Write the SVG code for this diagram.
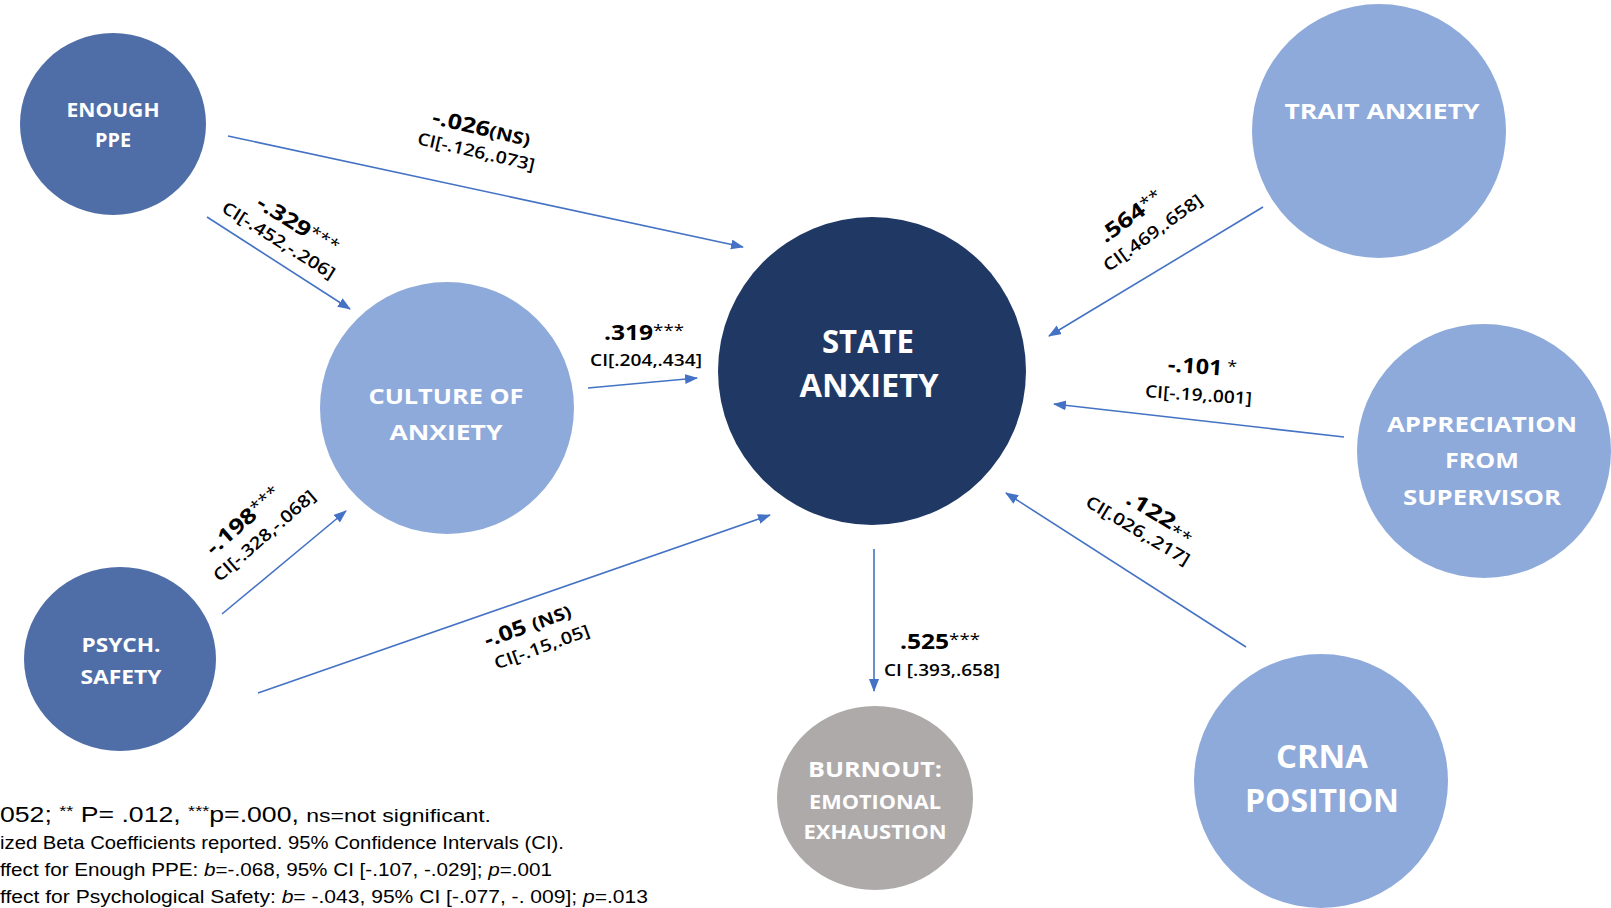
<svg xmlns="http://www.w3.org/2000/svg" width="1611" height="908" viewBox="0 0 1611 908">
<style>
.node-label{font-family:"Open Sans","Liberation Sans",sans-serif;font-weight:700;fill:#FFFFFF;text-anchor:middle}
.edge{stroke:#4472C4;stroke-width:1.6;fill:none;marker-end:url(#arrow)}
.val{font-family:"Open Sans","Liberation Sans",sans-serif;font-weight:700;font-size:21px;fill:#000;text-anchor:middle}
.ci{font-family:"Open Sans","Liberation Sans",sans-serif;font-weight:600;font-size:17px;fill:#000;text-anchor:middle}
.star{font-weight:400;font-size:16px}
.legend{font-family:"Liberation Sans",sans-serif;fill:#000}
</style>
<defs>
<marker id="arrow" markerUnits="userSpaceOnUse" markerWidth="14" markerHeight="12" refX="12" refY="5" orient="auto">
<path d="M0,0 L13,5 L0,10 Z" fill="#4472C4"/>
</marker>
</defs>
<rect width="1611" height="908" fill="#FFFFFF"/>

<g id="connectors">
<line class="edge" x1="228" y1="136" x2="743" y2="247"/>
<line class="edge" x1="207" y1="217" x2="350" y2="309"/>
<line class="edge" x1="588" y1="388" x2="697" y2="378"/>
<line class="edge" x1="222" y1="614" x2="346" y2="511"/>
<line class="edge" x1="258" y1="693" x2="770" y2="515"/>
<line class="edge" x1="1263" y1="207" x2="1049" y2="336"/>
<line class="edge" x1="1344" y1="437" x2="1054" y2="404"/>
<line class="edge" x1="1246" y1="647" x2="1006" y2="493"/>
<line class="edge" x1="874" y1="549" x2="874" y2="691"/>
</g>

<g id="edge-labels">
<g transform="translate(480,135) rotate(13)">
<text class="val" x="0" y="0" textLength="100" lengthAdjust="spacingAndGlyphs">-.026<tspan font-size="17">(NS)</tspan></text>
<text class="ci" x="0" y="23" textLength="120" lengthAdjust="spacingAndGlyphs">CI[-.126,.073]</text>
</g>
<g transform="translate(294,231) rotate(32)">
<text class="val" x="0" y="0" textLength="92" lengthAdjust="spacingAndGlyphs">-.329<tspan class="star" dy="-4">***</tspan></text>
<text class="ci" x="-8" y="22" textLength="130" lengthAdjust="spacingAndGlyphs">CI[-.452,-.206]</text>
</g>
<g transform="translate(644,340)">
<text class="val" x="0" y="0" textLength="80" lengthAdjust="spacingAndGlyphs">.319<tspan class="star" dy="-4">***</tspan></text>
<text class="ci" x="2" y="26" textLength="112" lengthAdjust="spacingAndGlyphs">CI[.204,.434]</text>
</g>
<g transform="translate(248,526) rotate(-41)">
<text class="val" x="0" y="0" textLength="92" lengthAdjust="spacingAndGlyphs">-.198<tspan class="star" dy="-4">***</tspan></text>
<text class="ci" x="6" y="24" textLength="129" lengthAdjust="spacingAndGlyphs">CI[-.328,-.068]</text>
</g>
<g transform="translate(530,632) rotate(-20)">
<text class="val" x="0" y="0" textLength="91" lengthAdjust="spacingAndGlyphs">-.05 <tspan font-size="17">(NS)</tspan></text>
<text class="ci" x="6" y="24" textLength="100" lengthAdjust="spacingAndGlyphs">CI[-.15,.05]</text>
</g>
<g transform="translate(1135,222) rotate(-36)">
<text class="val" x="0" y="0" textLength="73" lengthAdjust="spacingAndGlyphs">.564<tspan class="star" dy="-4">**</tspan></text>
<text class="ci" x="8" y="25" textLength="118" lengthAdjust="spacingAndGlyphs">CI[.469,.658]</text>
</g>
<g transform="translate(1202,374) rotate(4)">
<text class="val" x="0" y="0" textLength="69" lengthAdjust="spacingAndGlyphs">-.101<tspan class="star" dy="-4"> *</tspan></text>
<text class="ci" x="-2" y="27" textLength="107" lengthAdjust="spacingAndGlyphs">CI[-.19,.001]</text>
</g>
<g transform="translate(1157,522) rotate(31)">
<text class="val" x="0" y="0" textLength="76" lengthAdjust="spacingAndGlyphs">.122<tspan class="star" dy="4">**</tspan></text>
<text class="ci" x="-12" y="23" textLength="118" lengthAdjust="spacingAndGlyphs">CI[.026,.217]</text>
</g>
<g transform="translate(940,649)">
<text class="val" x="0" y="0" textLength="80" lengthAdjust="spacingAndGlyphs">.525<tspan class="star" dy="-4">***</tspan></text>
<text class="ci" x="2" y="27" textLength="116" lengthAdjust="spacingAndGlyphs">CI [.393,.658]</text>
</g>
</g>

<g id="node-enough-ppe">
<ellipse cx="113" cy="124" rx="93" ry="91" fill="#4F6EA8"/>
<text class="node-label" x="113" y="117" font-size="20" textLength="93" lengthAdjust="spacingAndGlyphs">ENOUGH</text>
<text class="node-label" x="113" y="147" font-size="20" textLength="36" lengthAdjust="spacingAndGlyphs">PPE</text>
</g>

<g id="node-culture">
<ellipse cx="447" cy="408" rx="127" ry="126" fill="#8EAADB"/>
<text class="node-label" x="446" y="404" font-size="22" textLength="155" lengthAdjust="spacingAndGlyphs">CULTURE OF</text>
<text class="node-label" x="446" y="440" font-size="22" textLength="113" lengthAdjust="spacingAndGlyphs">ANXIETY</text>
</g>

<g id="node-state-anxiety">
<ellipse cx="872" cy="371" rx="154" ry="154" fill="#203864"/>
<text class="node-label" x="868" y="353" font-size="32" textLength="92" lengthAdjust="spacingAndGlyphs">STATE</text>
<text class="node-label" x="869" y="397" font-size="32" textLength="139" lengthAdjust="spacingAndGlyphs">ANXIETY</text>
</g>

<g id="node-trait-anxiety">
<ellipse cx="1379" cy="131" rx="127" ry="127" fill="#8EAADB"/>
<text class="node-label" x="1382" y="119" font-size="22" textLength="195" lengthAdjust="spacingAndGlyphs">TRAIT ANXIETY</text>
</g>

<g id="node-appreciation">
<ellipse cx="1484" cy="451" rx="127" ry="127" fill="#8EAADB"/>
<text class="node-label" x="1482" y="432" font-size="22" textLength="190" lengthAdjust="spacingAndGlyphs">APPRECIATION</text>
<text class="node-label" x="1482" y="468" font-size="22" textLength="74" lengthAdjust="spacingAndGlyphs">FROM</text>
<text class="node-label" x="1482" y="505" font-size="22" textLength="158" lengthAdjust="spacingAndGlyphs">SUPERVISOR</text>
</g>

<g id="node-crna">
<ellipse cx="1321" cy="781" rx="127" ry="127" fill="#8EAADB"/>
<text class="node-label" x="1322" y="768" font-size="32" textLength="92" lengthAdjust="spacingAndGlyphs">CRNA</text>
<text class="node-label" x="1322" y="812" font-size="32" textLength="154" lengthAdjust="spacingAndGlyphs">POSITION</text>
</g>

<g id="node-burnout">
<ellipse cx="875" cy="798" rx="98" ry="92" fill="#AEAAAA"/>
<text class="node-label" x="875" y="777" font-size="22" textLength="134" lengthAdjust="spacingAndGlyphs">BURNOUT:</text>
<text class="node-label" x="875" y="809" font-size="19" textLength="132" lengthAdjust="spacingAndGlyphs">EMOTIONAL</text>
<text class="node-label" x="875" y="839" font-size="19" textLength="143" lengthAdjust="spacingAndGlyphs">EXHAUSTION</text>
</g>

<g id="node-psych-safety">
<ellipse cx="120" cy="659" rx="96" ry="92" fill="#4F6EA8"/>
<text class="node-label" x="121" y="652" font-size="20" textLength="79" lengthAdjust="spacingAndGlyphs">PSYCH.</text>
<text class="node-label" x="121" y="684" font-size="20" textLength="81" lengthAdjust="spacingAndGlyphs">SAFETY</text>
</g>

<g id="legend">
<text class="legend" x="0" y="822" font-size="22" textLength="491" lengthAdjust="spacingAndGlyphs">052; <tspan font-size="15" dy="-6">**</tspan><tspan dy="6"> P= .012, </tspan><tspan font-size="15" dy="-6">***</tspan><tspan dy="6">p=.000, </tspan><tspan font-size="19">ns=not significant.</tspan></text>
<text class="legend" x="0" y="849" font-size="18" textLength="564" lengthAdjust="spacingAndGlyphs">ized Beta Coefficients reported. 95% Confidence Intervals (CI).</text>
<text class="legend" x="0" y="876" font-size="18" textLength="552" lengthAdjust="spacingAndGlyphs">ffect for Enough PPE: <tspan font-style="italic">b</tspan>=-.068, 95% CI [-.107, -.029]; <tspan font-style="italic">p</tspan>=.001</text>
<text class="legend" x="0" y="903" font-size="18" textLength="648" lengthAdjust="spacingAndGlyphs">ffect for Psychological Safety: <tspan font-style="italic">b</tspan>= -.043, 95% CI [-.077, -. 009]; <tspan font-style="italic">p</tspan>=.013</text>
</g>
</svg>
